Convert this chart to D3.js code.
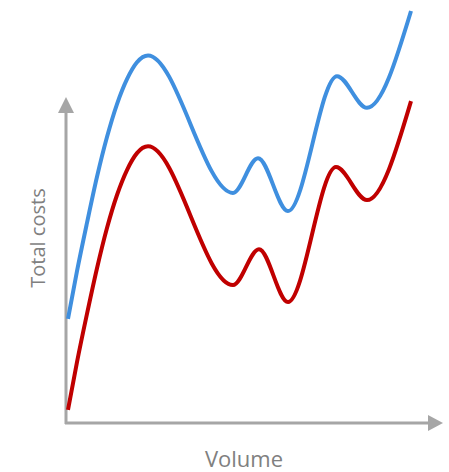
<!DOCTYPE html>
<html><head><meta charset="utf-8">
<script src="https://cdn.jsdelivr.net/npm/d3@7"></script>
<style>body{margin:0;background:#fff}svg{display:block}</style>
</head><body>
<svg id="c" width="449" height="472"></svg>
<script>
// Volume values (0-100) and total cost values (0-100)
const blueVolume = [0.53, 2.94, 5.61, 8.29, 10.96, 13.64, 16.31, 18.98, 21.93, 44.65, 51.34, 59.36, 72.46, 80.48, 92.25];
const blueCost   = [24.6, 35.9, 47.3, 58.2, 67.6, 75.4, 81.3, 85.3, 86.9, 54.4, 62.6, 50.1, 82.0, 74.5, 97.4];
const redVolume  = [0.53, 2.94, 5.61, 8.29, 10.96, 13.64, 16.31, 18.98, 21.93, 44.65, 51.6, 59.36, 72.19, 80.48, 92.25];
const redCost    = [3.1, 14.4, 25.8, 36.6, 46.1, 53.9, 59.8, 63.8, 65.4, 32.6, 41.1, 28.6, 60.5, 52.7, 76.1];
const xLabel = "Volume";
const yLabel = "Total costs";

const svg = d3.select("#c");
const x = d3.scaleLinear().domain([0, 100]).range([66, 440]);
const y = d3.scaleLinear().domain([0, 100]).range([423, 0]);
const axisColor = "#a6a6a6";

// axes
svg.append("line").attr("x1", 66).attr("y1", 424).attr("x2", 66).attr("y2", 110)
  .attr("stroke", axisColor).attr("stroke-width", 3);
svg.append("path").attr("d", "M66,97 L74,113 L58,113 Z").attr("fill", axisColor);
svg.append("line").attr("x1", 65).attr("y1", 423).attr("x2", 430).attr("y2", 423)
  .attr("stroke", axisColor).attr("stroke-width", 3);
svg.append("path").attr("d", "M443,423 L428,415 L428,431 Z").attr("fill", axisColor);

const line = d3.line().x(d => x(d[0])).y(d => y(d[1])).curve(d3.curveMonotoneX);
svg.append("path").datum(blueVolume.map((v, i) => [v, blueCost[i]]))
  .attr("d", line).attr("fill", "none").attr("stroke", "#3f8fdf").attr("stroke-width", 4);
svg.append("path").datum(redVolume.map((v, i) => [v, redCost[i]]))
  .attr("d", line).attr("fill", "none").attr("stroke", "#c00000").attr("stroke-width", 4);

svg.append("text").attr("x", 244).attr("y", 467).attr("text-anchor", "middle")
  .attr("font-family", "Open Sans").attr("font-size", 22).attr("fill", "#808080").text(xLabel);
svg.append("text").attr("transform", "translate(45,238) rotate(-90)").attr("text-anchor", "middle")
  .attr("font-family", "Open Sans").attr("font-size", 20).attr("fill", "#808080").text(yLabel);
</script>
</body></html>
